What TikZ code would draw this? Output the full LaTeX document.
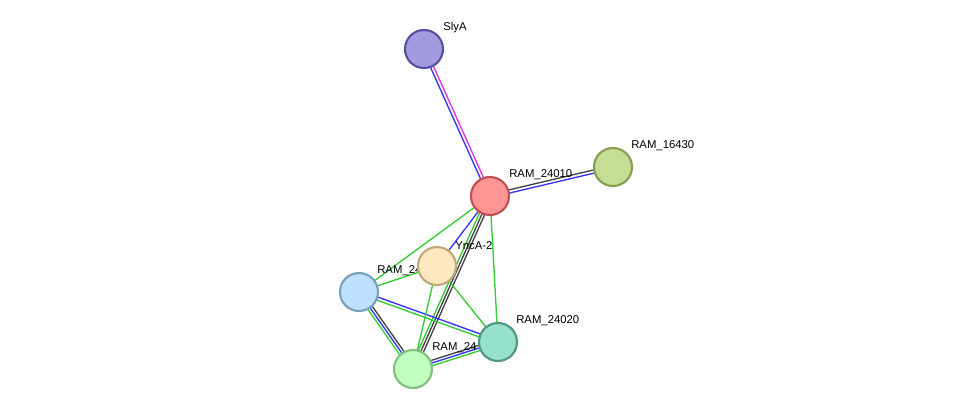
\documentclass[tikz,border=0pt]{standalone}
\usepackage{fontspec}
\setmainfont{Liberation Sans}
\usetikzlibrary{calc}
\newcommand{\eln}[4]{\draw[#4,line width=1pt] ($(#1.center)!#3!90:(#2.center)$) -- ($(#2.center)!#3!-90:(#1.center)$);}
\begin{document}
\begin{tikzpicture}[x=0.75pt,y=-0.75pt,
  nd/.style={circle,minimum size=28.5pt,inner sep=0pt,line width=1.6pt},
  lb/.style={font=\fontsize{8.5pt}{10pt}\selectfont,anchor=south west,inner sep=0pt}]
\useasboundingbox (0,0) rectangle (976,415);
\definecolor{eg}{HTML}{33CC33}\definecolor{eb}{HTML}{3333FF}\definecolor{ek}{HTML}{444444}\definecolor{em}{HTML}{DD33DD}
\coordinate (slyA) at (424,49);
\coordinate (r164) at (613,167);
\coordinate (r10) at (490,196);
\coordinate (ync) at (437,266);
\coordinate (r30) at (359,292);
\coordinate (r20) at (498,342);
\coordinate (rb) at (413,369);
% edges
\eln{slyA}{r10}{1.2pt}{em}\eln{slyA}{r10}{-1.2pt}{eb}
\eln{r10}{r164}{1.2pt}{ek}\eln{r10}{r164}{-1.2pt}{eb}
\eln{r10}{r30}{0pt}{eg}
\eln{r10}{ync}{0pt}{eb}
\eln{r10}{rb}{2pt}{ek}\eln{r10}{rb}{0pt}{ek}\eln{r10}{rb}{-2pt}{eg}
\eln{r10}{r20}{0pt}{eg}
\eln{r30}{ync}{0pt}{eg}
\eln{r30}{r20}{1.2pt}{eb}\eln{r30}{r20}{-1.2pt}{eg}
\eln{r30}{rb}{2pt}{ek}\eln{r30}{rb}{0pt}{eb}\eln{r30}{rb}{-2pt}{eg}
\eln{ync}{rb}{0pt}{eg}
\eln{ync}{r20}{0pt}{eg}
\eln{rb}{r20}{2pt}{ek}\eln{rb}{r20}{0pt}{eb}\eln{rb}{r20}{-2pt}{eg}
% labels
\node[lb] (lsly) at (443,33) {SlyA};
\node[lb] (l164) at (631,151) {RAM\_16430};
\node[lb] (l10) at (509,180) {RAM\_24010};
\node[lb] (lync) at (455,250) {YncA-2};
\node[lb] (l30) at (377,276) {RAM\_24030};
\node[lb] (l20) at (516,326) {RAM\_24020};
\node[lb] (lb2) at (432,353) {RAM\_24};
% nodes
\node[nd,fill={rgb,255:red,163;green,155;blue,224},draw={rgb,255:red,88;green,80;blue,160}] (nsly) at (slyA) {};
\node[nd,fill={rgb,255:red,197;green,221;blue,148},draw={rgb,255:red,132;green,160;blue,80}] (n164) at (r164) {};
\node[nd,fill={rgb,255:red,255;green,149;blue,149},draw={rgb,255:red,192;green,80;blue,80}] (n10) at (r10) {};
\node[nd,fill={rgb,255:red,253;green,232;blue,192},draw={rgb,255:red,192;green,168;blue,120}] (nync) at (ync) {};
\node[nd,fill={rgb,255:red,192;green,224;blue,255},draw={rgb,255:red,122;green,160;blue,192}] (n30) at (r30) {};
\node[nd,fill={rgb,255:red,150;green,224;blue,204},draw={rgb,255:red,80;green,150;blue,130}] (n20) at (r20) {};
\node[nd,fill={rgb,255:red,192;green,255;blue,192},draw={rgb,255:red,128;green,192;blue,128}] (nb) at (rb) {};
\end{tikzpicture}
\end{document}
